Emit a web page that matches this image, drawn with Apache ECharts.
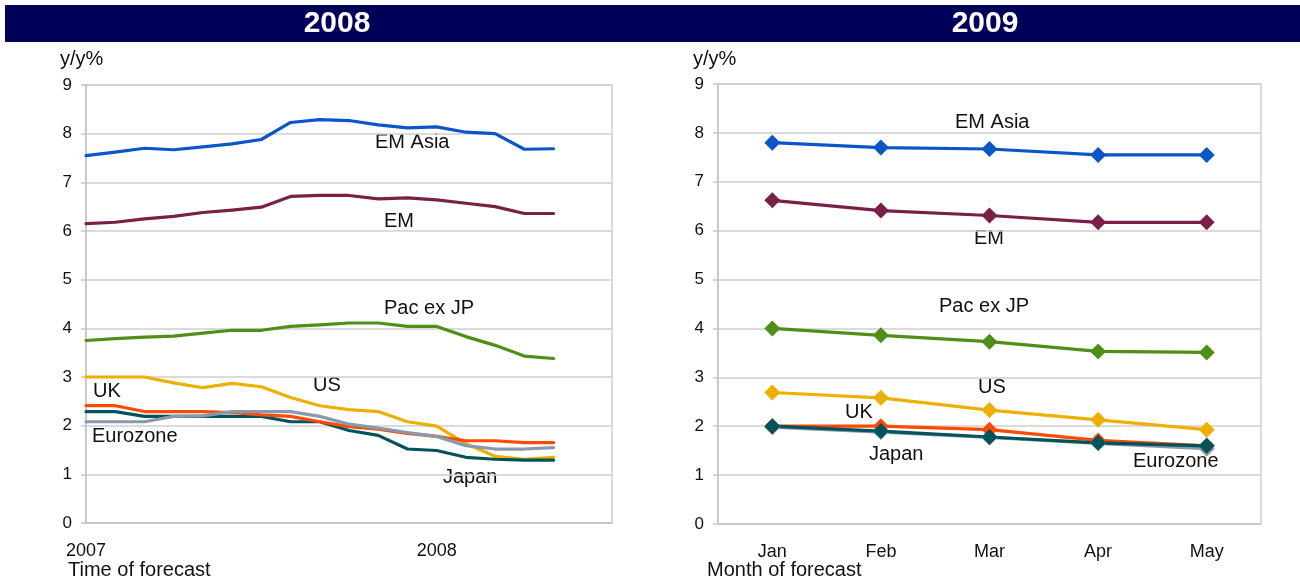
<!DOCTYPE html>
<html>
<head>
<meta charset="utf-8">
<script src="https://cdn.jsdelivr.net/npm/echarts@6/dist/echarts.min.js"></script>
<style>
html,body{margin:0;padding:0;background:#fff;}
#c{width:1300px;height:581px;}
</style>
</head>
<body>
<div id="c"></div>
<script>
// ---- Left panel (2008): monthly forecasts Jan 2007 .. May 2008 (axis runs to Jul 2008)
const months2008 = ['2007-01','2007-02','2007-03','2007-04','2007-05','2007-06','2007-07','2007-08','2007-09','2007-10','2007-11','2007-12','2008-01','2008-02','2008-03','2008-04','2008-05','2008-06','2008-07'];
const yearTickLabels = {'2007-01':'2007','2008-01':'2008'};
const emAsia08 = [7.55,7.62,7.70,7.67,7.73,7.79,7.88,8.23,8.29,8.27,8.18,8.12,8.14,8.03,8.00,7.68,7.69];
const em08     = [6.15,6.18,6.25,6.30,6.38,6.43,6.49,6.71,6.73,6.73,6.66,6.68,6.64,6.57,6.50,6.36,6.36];
const pac08    = [3.75,3.79,3.82,3.84,3.90,3.96,3.96,4.04,4.07,4.11,4.11,4.04,4.04,3.83,3.65,3.43,3.38];
const us08     = [3.00,3.00,3.00,2.88,2.78,2.87,2.80,2.58,2.41,2.33,2.29,2.08,1.99,1.63,1.37,1.31,1.35];
const uk08     = [2.41,2.41,2.29,2.29,2.29,2.27,2.22,2.19,2.08,1.98,1.93,1.84,1.78,1.69,1.69,1.65,1.65];
const japan08  = [2.29,2.29,2.19,2.19,2.19,2.19,2.19,2.08,2.08,1.90,1.80,1.52,1.49,1.35,1.31,1.29,1.29];
const euro08   = [2.08,2.08,2.08,2.19,2.20,2.29,2.29,2.29,2.19,2.03,1.95,1.86,1.78,1.59,1.52,1.52,1.55];

// ---- Right panel (2009): month of forecast
const months2009 = ['Jan','Feb','Mar','Apr','May'];
const emAsia09 = [7.80,7.70,7.67,7.55,7.55];
const em09     = [6.62,6.41,6.31,6.17,6.17];
const pac09    = [4.00,3.86,3.73,3.53,3.51];
const us09     = [2.69,2.58,2.33,2.13,1.93];
const uk09     = [2.00,2.00,1.93,1.71,1.60];
const japan09  = [2.00,1.90,1.78,1.66,1.60];
const euro09   = [1.98,1.88,1.77,1.65,1.54];

const yTicks = ['0','1','2','3','4','5','6','7','8','9'];

const C = {
  emAsia:'#0a55c8', em:'#7a1f48', pac:'#4f8e17', us:'#eeb000',
  uk:'#ff4a00', japan:'#00535c', euro:'#8899ad'
};
const FONT = '"Liberation Sans", Arial, sans-serif';

function lineSeries(name, data, color, xi, withMarker){
  return {
    name, type:'line', data, xAxisIndex:xi, yAxisIndex:xi,
    smooth:false, animation:false,
    showSymbol: !!withMarker, symbol:'diamond', symbolSize: withMarker?16:0,
    lineStyle:{color, width:3.2, join:'round', cap:'round'},
    itemStyle:{color},
    emphasis:{disabled:true}
  };
}

function yAxis(gi){
  return {
    type:'value', gridIndex:gi, min:0, max:9, interval:1,
    axisLine:{show:true, lineStyle:{color:'#c4c4c4', width:1.5}},
    axisTick:{show:true, length:5, lineStyle:{color:'#c4c4c4', width:1.5}},
    splitLine:{show:true, lineStyle:{color:'#cfcfcf', width:1.5}},
    axisLabel:{color:'#111', fontSize:17, fontFamily:FONT, margin:14,
      formatter:(v)=>yTicks[v] !== undefined ? yTicks[v] : ''}
  };
}

const chart = echarts.init(document.getElementById('c'), null, {renderer:'canvas'});

function txt(text, left, top, size, extra){
  return Object.assign({type:'text', left, top, style:{text, fill:'#111', font: size+'px '+FONT}}, extra||{});
}

const option = {
  animation:false,
  backgroundColor:'#fff',
  grid:[
    {left:86, top:85, width:526, height:438, show:true, borderColor:'#cfcfcf', borderWidth:1.5, backgroundColor:'transparent'},
    {left:718, top:84, width:543, height:440, show:true, borderColor:'#cfcfcf', borderWidth:1.5, backgroundColor:'transparent'}
  ],
  xAxis:[
    {type:'category', gridIndex:0, data:months2008, boundaryGap:false,
      axisLine:{show:true, lineStyle:{color:'#c4c4c4', width:1.5}},
      axisTick:{show:false}, splitLine:{show:false},
      axisLabel:{interval:0, color:'#111', fontSize:18, fontFamily:FONT, margin:19,
        formatter:(v)=>yearTickLabels[v] || ''}},
    {type:'category', gridIndex:1, data:months2009, boundaryGap:true,
      axisLine:{show:true, lineStyle:{color:'#c4c4c4', width:1.5}},
      axisTick:{show:false}, splitLine:{show:false},
      axisLabel:{interval:0, color:'#111', fontSize:18, fontFamily:FONT, margin:19}}
  ],
  yAxis:[yAxis(0), yAxis(1)],
  series:[
    lineSeries('EM Asia', emAsia08, C.emAsia, 0),
    lineSeries('EM', em08, C.em, 0),
    lineSeries('Pac ex JP', pac08, C.pac, 0),
    lineSeries('US', us08, C.us, 0),
    lineSeries('Japan', japan08, C.japan, 0),
    lineSeries('UK', uk08, C.uk, 0),
    lineSeries('Eurozone', euro08, C.euro, 0),

    lineSeries('EM Asia', emAsia09, C.emAsia, 1, true),
    lineSeries('EM', em09, C.em, 1, true),
    lineSeries('Pac ex JP', pac09, C.pac, 1, true),
    lineSeries('US', us09, C.us, 1, true),
    lineSeries('Eurozone', euro09, C.euro, 1, true),
    lineSeries('UK', uk09, C.uk, 1, true),
    lineSeries('Japan', japan09, C.japan, 1, true)
  ],
  graphic:[
    {type:'rect', shape:{x:5, y:5, width:1295, height:37}, style:{fill:'#000058'}, silent:true},
    {type:'text', x:337, y:24, style:{text:'2008', fill:'#fff', font:'bold 30px '+FONT, align:'center', verticalAlign:'middle'}},
    {type:'text', x:985, y:24, style:{text:'2009', fill:'#fff', font:'bold 30px '+FONT, align:'center', verticalAlign:'middle'}},

    txt('y/y%', 60, 49, 20),
    txt('y/y%', 693, 49, 20),
    txt('Time of forecast', 68, 560, 20),
    txt('Month of forecast', 707, 560, 20),

    txt('EM Asia', 375, 132, 20),
    txt('EM', 384, 211, 20),
    txt('Pac ex JP', 384, 298, 20),
    txt('US', 313, 375, 20),
    txt('UK', 93, 381, 20),
    txt('Eurozone', 92, 426, 20),
    txt('Japan', 443, 467, 20),

    txt('EM Asia', 955, 112, 20),
    txt('EM', 974, 228, 20),
    txt('Pac ex JP', 939, 296, 20),
    txt('US', 978, 377, 20),
    txt('UK', 845, 402, 20),
    txt('Japan', 869, 444, 20),
    txt('Eurozone', 1133, 451, 20)
  ]
};
chart.setOption(option);
</script>
</body>
</html>
